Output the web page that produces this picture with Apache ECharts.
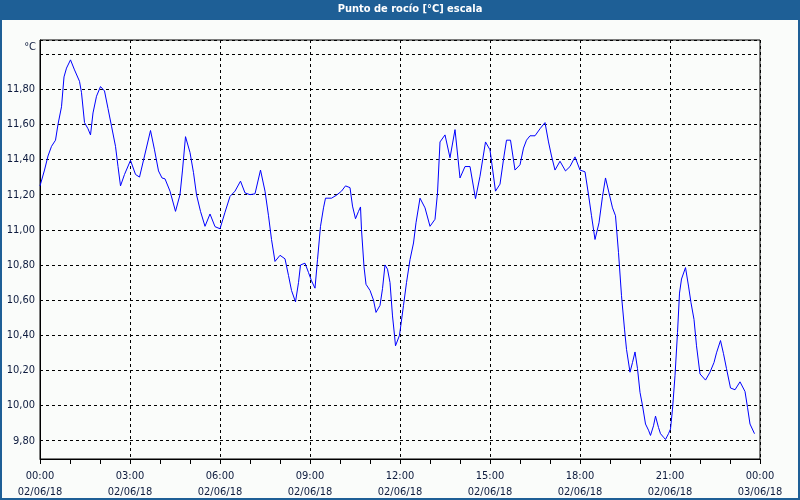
<!DOCTYPE html>
<html>
<head>
<meta charset="utf-8">
<script src="https://cdn.jsdelivr.net/npm/echarts@6/dist/echarts.min.js"></script>
<style>
html,body{margin:0;padding:0;background:#fafcfa;}
#chart{width:800px;height:500px;}
</style>
</head>
<body>
<div id="chart"></div>
<script>
// minutes since 02/06/18 00:00
var minutes = [0,9,16,23,31,36,43,48,53,61,69,79,83,89,96,101,106,113,121,129,136,143,151,156,161,169,181,191,199,209,221,229,237,244,250,260,271,280,285,291,300,307,313,321,330,340,350,360,370,380,390,401,410,420,430,441,450,457,463,470,480,490,497,503,511,517,521,530,537,543,550,555,561,567,571,583,593,603,611,620,625,631,637,641,643,648,652,660,667,672,680,685,690,695,700,705,709,711,719,727,733,740,747,752,760,770,780,790,795,800,810,820,830,840,850,860,871,880,891,900,911,920,928,933,941,950,960,967,973,980,990,1000,1010,1017,1023,1030,1040,1051,1060,1070,1080,1090,1097,1103,1110,1118,1125,1131,1138,1145,1151,1157,1163,1169,1173,1180,1185,1190,1195,1200,1205,1211,1217,1221,1227,1231,1237,1241,1247,1251,1257,1261,1265,1270,1275,1279,1283,1291,1297,1302,1308,1313,1320,1331,1340,1348,1353,1361,1367,1373,1381,1390,1400,1410,1415,1420,1429];
var dewPoint = [11.25,11.34,11.42,11.475,11.51,11.60,11.70,11.87,11.92,11.967,11.91,11.845,11.78,11.61,11.575,11.54,11.665,11.76,11.815,11.79,11.69,11.59,11.475,11.36,11.25,11.315,11.395,11.315,11.30,11.42,11.565,11.455,11.335,11.295,11.29,11.22,11.105,11.20,11.34,11.53,11.44,11.325,11.20,11.105,11.02,11.09,11.018,11.006,11.10,11.19,11.22,11.277,11.21,11.20,11.205,11.34,11.22,11.08,10.945,10.82,10.855,10.835,10.74,10.655,10.59,10.70,10.80,10.81,10.757,10.71,10.668,10.83,11.02,11.125,11.18,11.18,11.197,11.22,11.25,11.24,11.135,11.063,11.105,11.13,11.00,10.79,10.69,10.655,10.60,10.53,10.57,10.665,10.80,10.776,10.70,10.51,10.40,10.34,10.40,10.57,10.70,10.83,10.925,11.04,11.18,11.125,11.02,11.06,11.21,11.50,11.54,11.41,11.57,11.295,11.36,11.36,11.177,11.305,11.50,11.455,11.22,11.26,11.42,11.51,11.51,11.34,11.37,11.465,11.51,11.535,11.535,11.575,11.61,11.50,11.42,11.34,11.39,11.335,11.36,11.415,11.34,11.33,11.20,11.08,10.945,11.04,11.19,11.295,11.21,11.125,11.08,10.87,10.625,10.435,10.32,10.19,10.245,10.305,10.21,10.075,10.00,9.895,9.86,9.83,9.885,9.94,9.875,9.84,9.82,9.807,9.84,9.867,9.98,10.17,10.415,10.64,10.72,10.785,10.68,10.585,10.49,10.34,10.18,10.145,10.19,10.245,10.30,10.37,10.295,10.21,10.10,10.09,10.135,10.08,9.99,9.895,9.84];
var dayLabels = ['02/06/18','03/06/18'];
var titleText = 'Punto de rocío [°C] escala';
var unitLabel = '°C';

var seriesData = minutes.map(function(m,i){return [m, dewPoint[i]];});
function pad(n){return (n<10?'0':'')+n;}
var fontFam = '"DejaVu Sans Condensed","DejaVu Sans",sans-serif';
var labelColor = '#0d1b3e';

var chart = echarts.init(document.getElementById('chart'), null, {renderer:'canvas'});
chart.setOption({
  backgroundColor:'#fafcfa',
  animation:false,
  graphic:[
    {type:'rect', shape:{x:0,y:0,width:800,height:20}, style:{fill:'#1e5f96'}, z:0},
    {type:'rect', shape:{x:1,y:1,width:798,height:498}, style:{fill:'none',stroke:'#1e5f96',lineWidth:2}, z:0, silent:true}
  ],
  title:{
    text:titleText, left:410, top:0, textAlign:'center',
    padding:[4,0,3,0],
    textStyle:{color:'#ffffff', fontSize:11, fontWeight:'bold', fontFamily:fontFam}
  },
  grid:{left:40,right:40,top:40,bottom:40, show:true, borderColor:'#000', borderWidth:1, backgroundColor:'transparent'},
  xAxis:{
    type:'value', min:0, max:1440, interval:180,
    axisLine:{show:true, lineStyle:{color:'#000',width:1}},
    axisTick:{show:true, length:5, lineStyle:{color:'#000'}},
    minorTick:{show:true, splitNumber:3, length:5, lineStyle:{color:'#000'}},
    splitLine:{show:true, lineStyle:{color:'#000', type:[3,3], width:1}},
    axisLabel:{
      margin:9, color:labelColor, fontSize:11, fontFamily:fontFam, lineHeight:16,
      formatter:function(v){
        var d = Math.floor(v/1440);
        var r = v - d*1440;
        return pad(Math.floor(r/60))+':'+pad(r%60)+'\n'+dayLabels[d];
      }
    }
  },
  yAxis:{
    type:'value', min:9.696, max:12.08, splitNumber:12,
    name:unitLabel, nameLocation:'end', nameGap:-13,
    nameTextStyle:{color:labelColor, fontSize:11, fontFamily:fontFam, align:'right', padding:[0,4,0,0]},
    axisLine:{show:true, lineStyle:{color:'#000',width:1}},
    axisTick:{show:false},
    splitLine:{show:true, lineStyle:{color:'#000', type:[3,3], width:1}},
    axisLabel:{
      margin:5, color:labelColor, fontSize:11, fontFamily:fontFam,
      showMinLabel:false, showMaxLabel:false,
      formatter:function(v){ if(v>11.99) return ''; return v.toFixed(2).replace('.',','); }
    }
  },
  series:[{
    type:'line', data:seriesData, showSymbol:false, symbol:'none',
    lineStyle:{color:'#0000ff', width:1}, itemStyle:{color:'#0000ff'}
  }]
});
</script>
</body>
</html>
